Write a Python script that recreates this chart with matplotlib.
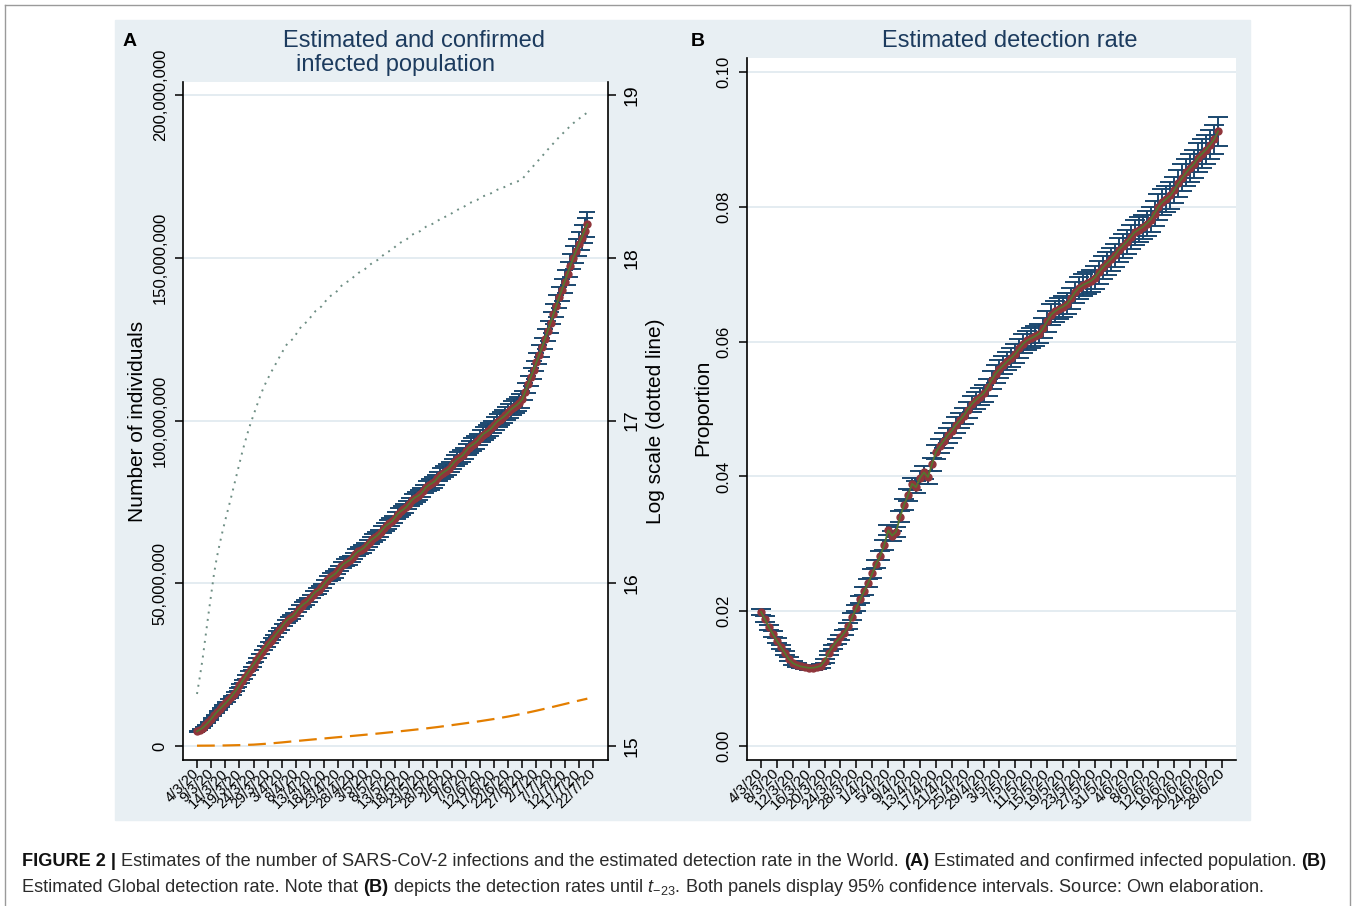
import numpy as np
import matplotlib
matplotlib.use("Agg")
import matplotlib.pyplot as plt
from matplotlib import font_manager
from matplotlib.lines import Line2D
from matplotlib.patches import Rectangle

# ---- data ----
# Panel A: estimated infected population (millions), daily from 4/3/20 to 20/7/20
est_m = [
    4.5, 5.0, 5.6, 6.4, 7.3, 8.3, 9.4, 10.4, 11.3, 12.2,
    13.1, 14.0, 15.0, 16.1, 17.3, 18.6, 19.9, 21.2, 22.5, 23.8,
    25.0, 26.3, 27.6, 28.9, 30.1, 31.2, 32.3, 33.3, 34.4, 35.5,
    36.6, 37.8, 38.8, 39.4, 39.9, 41.0, 42.2, 43.1, 43.8, 44.4,
    45.4, 46.5, 47.4, 48.0, 48.7, 49.8, 50.9, 51.8, 52.4, 53.0,
    54.0, 55.2, 56.0, 56.6, 57.1, 58.0, 59.0, 59.8, 60.3, 60.9,
    61.8, 62.8, 63.6, 64.2, 64.9, 65.9, 66.9, 67.8, 68.4, 69.1,
    70.2, 71.3, 72.1, 72.7, 73.4, 74.5, 75.6, 76.3, 76.8, 77.4,
    78.4, 79.5, 80.2, 80.7, 81.3, 82.3, 83.3, 84.0, 84.6, 85.2,
    86.2, 87.3, 88.1, 88.7, 89.4, 90.5, 91.6, 92.3, 92.9, 93.6,
    94.7, 95.7, 96.3, 96.9, 97.6, 98.6, 99.6, 100.3, 100.9, 101.6,
    102.5, 103.4, 104.1, 104.7, 105.5, 106.5, 108.8, 111.1, 113.3, 115.6,
    117.9, 120.2, 122.5, 125.0, 127.6, 130.1, 132.7, 135.2, 137.8, 140.2,
    142.7, 145.1, 147.6, 150.0, 152.1, 154.2, 156.2, 158.3, 160.3,
]
est_ci_rel = 0.024  # half width of the 95% CI, share of the estimate

# confirmed cases (millions), read every 5 days
conf_day = [0, 5, 10, 15, 20, 25, 30, 35, 40, 45, 50, 55, 60, 65, 70,
            75, 80, 85, 90, 95, 100, 105, 110, 115, 120, 125, 130, 135, 138]
conf_m = [0.095, 0.12, 0.17, 0.27, 0.42, 0.72, 1.10, 1.52, 1.93, 2.32,
          2.72, 3.10, 3.50, 3.92, 4.36, 4.82, 5.30, 5.82, 6.40, 7.00,
          7.62, 8.30, 9.05, 9.90, 10.85, 11.85, 12.90, 13.95, 14.55]

ticks_a = ["4/3/20", "9/3/20", "14/3/20", "19/3/20", "24/3/20", "29/3/20",
           "3/4/20", "8/4/20", "13/4/20", "18/4/20", "23/4/20", "28/4/20",
           "3/5/20", "8/5/20", "13/5/20", "18/5/20", "23/5/20", "28/5/20",
           "2/6/20", "7/6/20", "12/6/20", "17/6/20", "22/6/20", "27/6/20",
           "2/7/20", "7/7/20", "12/7/20", "17/7/20", "22/7/20"]

# Panel B: estimated detection rate, daily from 4/3/20 to 27/6/20
rate = [
    0.0199, 0.0188, 0.0176, 0.0166, 0.0156, 0.0147, 0.0138, 0.0129, 0.0123, 0.0120,
    0.0118, 0.0117, 0.0116, 0.0116, 0.0117, 0.0119, 0.0126, 0.0138, 0.0147, 0.0155,
    0.0161, 0.0168, 0.0178, 0.0192, 0.0205, 0.0218, 0.0230, 0.0242, 0.0256, 0.0270,
    0.0282, 0.0298, 0.0320, 0.0312, 0.0318, 0.0340, 0.0358, 0.0372, 0.0389, 0.0384,
    0.0398, 0.0406, 0.0399, 0.0418, 0.0436, 0.0445, 0.0453, 0.0461, 0.0468, 0.0476,
    0.0483, 0.0490, 0.0499, 0.0507, 0.0513, 0.0518, 0.0523, 0.0532, 0.0543, 0.0552,
    0.0559, 0.0565, 0.0571, 0.0576, 0.0582, 0.0590, 0.0597, 0.0602, 0.0605, 0.0608,
    0.0612, 0.0620, 0.0630, 0.0640, 0.0645, 0.0649, 0.0652, 0.0656, 0.0664, 0.0673,
    0.0680, 0.0684, 0.0687, 0.0690, 0.0695, 0.0703, 0.0710, 0.0716, 0.0722, 0.0728,
    0.0736, 0.0742, 0.0748, 0.0755, 0.0762, 0.0766, 0.0770, 0.0775, 0.0781, 0.0790,
    0.0800, 0.0807, 0.0812, 0.0817, 0.0825, 0.0835, 0.0843, 0.0851, 0.0858, 0.0864,
    0.0873, 0.0879, 0.0885, 0.0892, 0.0900, 0.0912,
]
rate_ci_rel = 0.024

ticks_b = ["4/3/20", "8/3/20", "12/3/20", "16/3/20", "20/3/20", "24/3/20",
           "28/3/20", "1/4/20", "5/4/20", "9/4/20", "13/4/20", "17/4/20",
           "21/4/20", "25/4/20", "29/4/20", "3/5/20", "7/5/20", "11/5/20",
           "15/5/20", "19/5/20", "23/5/20", "27/5/20", "31/5/20", "4/6/20",
           "8/6/20", "12/6/20", "16/6/20", "20/6/20", "24/6/20", "28/6/20"]

# ---- style ----
navy = "#1a476f"
maroon = "#90353b"
green = "#55752f"
orange = "#e37e00"
teal = "#6e8e84"
title_col = "#1c3b5e"
bg = "#e8eff3"
grid_col = "#e2eaf0"

plt.rcParams["font.family"] = ["Liberation Sans", "DejaVu Sans"]

names = {f.name for f in font_manager.fontManager.ttflist}
cap_font = "Liberation Sans Narrow" if "Liberation Sans Narrow" in names else "Liberation Sans"
plt.rcParams["mathtext.fontset"] = "custom"
plt.rcParams["mathtext.rm"] = cap_font
plt.rcParams["mathtext.it"] = cap_font + ":italic"
plt.rcParams["mathtext.bf"] = cap_font + ":bold"

W, H = 1357, 906
fig = plt.figure(figsize=(W / 100, H / 100), dpi=100)


def box(l, t, r, b):
    return [l / W, 1 - b / H, (r - l) / W, (b - t) / H]


def fx(x):
    return x / W


def fy(y):
    return 1 - y / H


def vertical_ylabels(ax, ha):
    # Stata style: tick labels turned 90 degrees and centred on the tick
    for lab in ax.get_yticklabels():
        lab.set_rotation(90)
        lab.set_rotation_mode("default")
        lab.set_ha(ha)
        lab.set_va("center")


def slanted_xlabels(ax):
    plt.setp(ax.get_xticklabels(), rotation=45, ha="right", va="center",
             rotation_mode="anchor")


# background panel and outer frame (drawn under the axes)
fig.patches.append(Rectangle((fx(115), fy(820)), (1250 - 115) / W, (820 - 20) / H,
                             transform=fig.transFigure, color=bg, zorder=-5))
for xs, ys in [((5, 1350), (5, 5)), ((5, 5), (5, 906)), ((1350, 1350), (5, 906))]:
    fig.lines.append(Line2D([fx(v) for v in xs], [fy(v) for v in ys],
                            transform=fig.transFigure, color="#9a9a9a", lw=1.0,
                            zorder=-5))

# ---- panel A ----
axA = fig.add_axes(box(183, 82, 608, 760))
days_a = np.arange(len(est_m))
est = np.array(est_m) * 1e6
axA.errorbar(days_a, est, yerr=est * est_ci_rel, fmt="none", ecolor=navy,
             elinewidth=1.4, capsize=6, capthick=1.4, zorder=2)
axA.plot(days_a, est, "o", color=maroon, ms=5, zorder=3)
axA.plot(days_a, est, "-", color=green, lw=1.3, zorder=4)
axA.plot(conf_day, np.array(conf_m) * 1e6, color=orange, lw=1.6,
         dashes=(8, 3.5), zorder=3)

axA.set_xlim(-4.95, 145.3)
axA.set_ylim(-4.3e6, 204e6)
axA.set_yticks([0, 50e6, 100e6, 150e6, 200e6])
axA.set_yticklabels([f"{v:,.0f}" for v in [0, 50e6, 100e6, 150e6, 200e6]])
axA.set_xticks(np.arange(len(ticks_a)) * 5)
axA.set_xticklabels(ticks_a)
axA.grid(axis="y", color=grid_col, lw=1.3)
axA.set_axisbelow(True)
axA.spines[["top", "right"]].set_visible(False)
axA.tick_params(axis="both", direction="out", length=6, width=1.1)
axA.tick_params(axis="y", labelsize=12, pad=5)
axA.tick_params(axis="x", labelsize=10.5, pad=2)
vertical_ylabels(axA, "right")
slanted_xlabels(axA)
axA.set_ylabel("Number of individuals", fontsize=15, va="center")
axA.yaxis.set_label_coords(-0.106, 0.5)

ax2 = axA.twinx()
ax2.plot(days_a, np.log(est), color=teal, lw=1.4, linestyle=(0, (1, 2.8)), zorder=3)
ax2.set_ylim(15 - 14 / 651 * 4, 19 + 13 / 651 * 4)
ax2.set_yticks([15, 16, 17, 18, 19])
ax2.spines[["top", "left", "bottom"]].set_visible(False)
ax2.tick_params(axis="y", direction="out", length=6, width=1.1,
                labelsize=14, pad=5)
vertical_ylabels(ax2, "left")
ax2.set_ylabel("Log scale (dotted line)", fontsize=15, va="center", rotation=90)
ax2.yaxis.set_label_coords(1.111, 0.5)

# ---- panel B ----
axB = fig.add_axes(box(747, 58, 1236, 760))
days_b = np.arange(len(rate))
r = np.array(rate)
axB.errorbar(days_b, r, yerr=r * rate_ci_rel, fmt="none", ecolor=navy,
             elinewidth=1.4, capsize=7, capthick=1.4, zorder=2)
axB.plot(days_b, r, "o", color=maroon, ms=5, zorder=3)
axB.plot(days_b, r, "-", color=green, lw=1.3, zorder=4)
axB.set_xlim(-3.52, 119.5)
axB.set_ylim(-14 / 6740, 0.10 + 14 / 6740)
axB.set_yticks([0.0, 0.02, 0.04, 0.06, 0.08, 0.10])
axB.set_yticklabels(["0.00", "0.02", "0.04", "0.06", "0.08", "0.10"])
axB.set_xticks(np.arange(len(ticks_b)) * 4)
axB.set_xticklabels(ticks_b)
axB.grid(axis="y", color=grid_col, lw=1.3)
axB.set_axisbelow(True)
axB.spines[["top", "right"]].set_visible(False)
axB.tick_params(axis="both", direction="out", length=6, width=1.1)
axB.tick_params(axis="y", labelsize=12, pad=5)
axB.tick_params(axis="x", labelsize=11, pad=2)
vertical_ylabels(axB, "right")
slanted_xlabels(axB)
axB.set_ylabel("Proportion", fontsize=15, va="center")
axB.yaxis.set_label_coords(-0.09, 0.501)

for ax in (axA, ax2, axB):
    for s in ax.spines.values():
        s.set_linewidth(1.2)

# titles and panel letters
fig.text(fx(414), fy(41), "Estimated and confirmed", fontsize=17, color=title_col,
         ha="center", va="center")
fig.text(fx(396), fy(65), "infected population", fontsize=17, color=title_col,
         ha="center", va="center")
fig.text(fx(1010), fy(41), "Estimated detection rate", fontsize=17, color=title_col,
         ha="center", va="center")
fig.text(fx(130), fy(41), "A", fontsize=14, fontweight="bold", ha="center", va="center")
fig.text(fx(698), fy(41), "B", fontsize=14, fontweight="bold", ha="center", va="center")

# ---- caption ----
line1 = [("FIGURE 2 |", "bold"),
         ("Estimates of the number of SARS-CoV-2 infections and the estimated "
          "detection rate in the World.", "normal"),
         ("(A)", "bold"),
         ("Estimated and confirmed infected population.", "normal"),
         ("(B)", "bold")]
line2 = [("Estimated Global detection rate. Note that", "normal"),
         ("(B)", "bold"),
         ("depicts the detection rates until $t_{-23}$. Both panels display 95% "
          "confidence intervals. Source: Own elaboration.", "normal")]

renderer = fig.canvas.get_renderer()


def text_width(s, size, weight):
    t = fig.text(0, 0, s, fontsize=size, fontweight=weight, family=cap_font)
    w = t.get_window_extent(renderer=renderer).width
    t.remove()
    return w


def rich_line(parts, x0, y0, size):
    sp = text_width("x x", size, "normal") - text_width("xx", size, "normal")
    x = x0
    for txt, weight in parts:
        t = fig.text(fx(x), fy(y0), txt, fontsize=size, fontweight=weight,
                     family=cap_font, color="#2b2b2b" if weight == "normal" else "#111111",
                     ha="left", va="baseline")
        x += t.get_window_extent(renderer=renderer).width + sp


def line_width(parts, size):
    sp = text_width("x x", size, "normal") - text_width("xx", size, "normal")
    return sum(text_width(t, size, w) for t, w in parts) + sp * (len(parts) - 1)


base = 12.0
cap_size = base * 1306 / line_width(line1, base)
rich_line(line1, 22, 866, cap_size)
rich_line(line2, 22, 892, cap_size)

fig.savefig("out.png", dpi=100)
